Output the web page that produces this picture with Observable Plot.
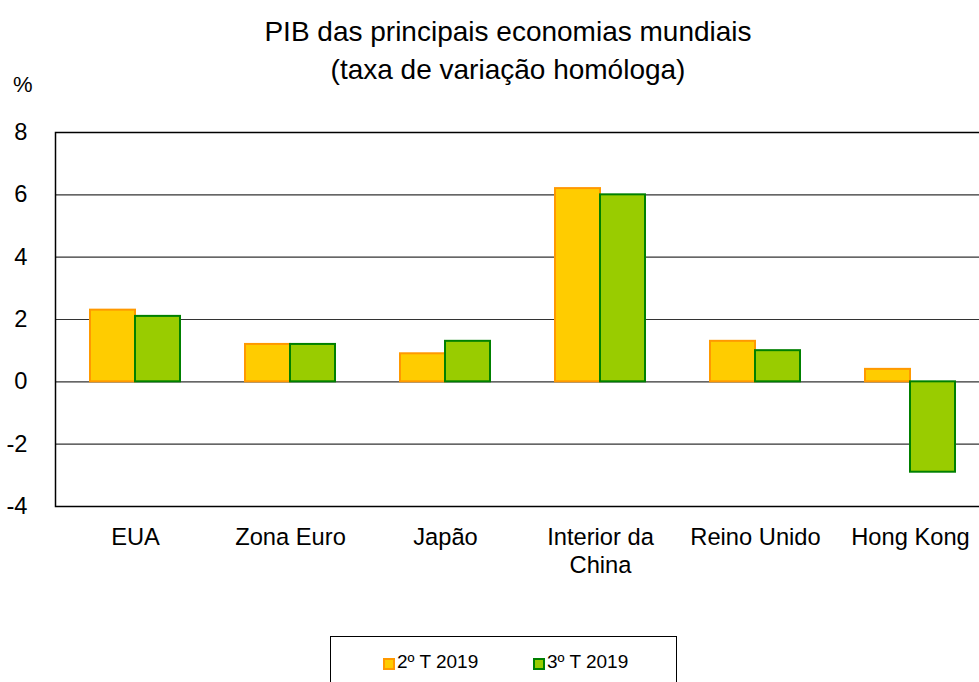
<!DOCTYPE html>
<html>
<head>
<meta charset="utf-8">
<script src="https://cdn.jsdelivr.net/npm/d3@7"></script>
<script src="https://cdn.jsdelivr.net/npm/@observablehq/plot@0.6"></script>
<style>
  body { margin:0; background:#fff; font-family:"Liberation Sans", Arial, sans-serif; overflow:hidden; width:979px; height:682px; position:relative; color:#000; }
  #title { position:absolute; left:0; top:13px; width:979px; padding-left:37px; box-sizing:border-box; text-align:center; font-size:28px; line-height:38px; }
  #pct { position:absolute; left:13px; top:72px; font-size:22px; line-height:26px; }
  #chart { position:absolute; left:0; top:95px; width:990px; }
  #chart svg { max-width:none !important; }
  #legend { position:absolute; left:330px; top:636px; width:347px; height:60px; border:1px solid #000; box-sizing:border-box; font-size:19px; line-height:20px; }
  .item { position:absolute; top:15px; display:flex; align-items:center; white-space:nowrap; }
  .sw { display:inline-block; width:8px; height:8px; border:2px solid; margin-right:2px; margin-top:4px; }
</style>
</head>
<body>
<div id="title">PIB das principais economias mundiais<br>(taxa de variação homóloga)</div>
<div id="pct">%</div>
<div id="chart"></div>
<div id="legend"></div>
<script>
const categories = ["EUA", "Zona Euro", "Japão", "Interior da China", "Reino Unido", "Hong Kong"];
const categoryLabels = ["EUA", "Zona Euro", "Japão", "Interior da\nChina", "Reino Unido", "Hong Kong"];
const series = ["2º T 2019", "3º T 2019"];
const q2_2019 = [2.3, 1.2, 0.9, 6.2, 1.3, 0.4];
const q3_2019 = [2.1, 1.2, 1.3, 6.0, 1.0, -2.9];
const yTicks = [-4, -2, 0, 2, 4, 6, 8];
const fills = ["#FFCC00", "#99CC00"];
const strokes = ["#FF9900", "#008000"];

const d2 = categories.map((c, i) => ({category: c, series: series[0], value: q2_2019[i]}));
const d3v = categories.map((c, i) => ({category: c, series: series[1], value: q3_2019[i]}));

const chart = Plot.plot({
  width: 990,
  height: 505,
  marginLeft: 55,
  marginRight: 1,
  marginTop: 37,
  marginBottom: 94,
  style: {fontFamily: '"Liberation Sans", Arial, sans-serif', fontSize: "23.7px", color: "#000", background: "transparent", overflow: "visible"},
  x: {domain: categories, paddingInner: 0.422, paddingOuter: 0.211, label: null},
  y: {domain: [-4, 8], label: null},
  marks: [
    Plot.ruleY(yTicks.filter(t => t > -4 && t < 8), {stroke: "#333", strokeWidth: 1.2}),
    Plot.barY(d2, {x: "category", y: "value", fill: fills[0], stroke: strokes[0], strokeWidth: 2, insetRight: 45}),
    Plot.barY(d3v, {x: "category", y: "value", fill: fills[1], stroke: strokes[1], strokeWidth: 2, insetLeft: 45}),
    Plot.frame({stroke: "#000", strokeWidth: 1.5}),
    Plot.axisY({ticks: yTicks, tickSize: 0, tickPadding: 28, label: null, fontSize: 23.7, tickFormat: d => String(d)}),
    Plot.axisX({anchor: "bottom", tickSize: 0, tickPadding: 18, label: null, lineHeight: 1.2, fontSize: 23.7,
      tickFormat: d => categoryLabels[categories.indexOf(d)]})
  ]
});
document.getElementById("chart").appendChild(chart);

const legend = document.getElementById("legend");
const lefts = [52, 202];
series.forEach((s, i) => {
  const it = document.createElement("div");
  it.className = "item";
  it.style.left = lefts[i] + "px";
  const sw = document.createElement("span");
  sw.className = "sw";
  sw.style.background = fills[i];
  sw.style.borderColor = strokes[i];
  it.appendChild(sw);
  const t = document.createElement("span");
  t.textContent = s;
  it.appendChild(t);
  legend.appendChild(it);
});
</script>
</body>
</html>
